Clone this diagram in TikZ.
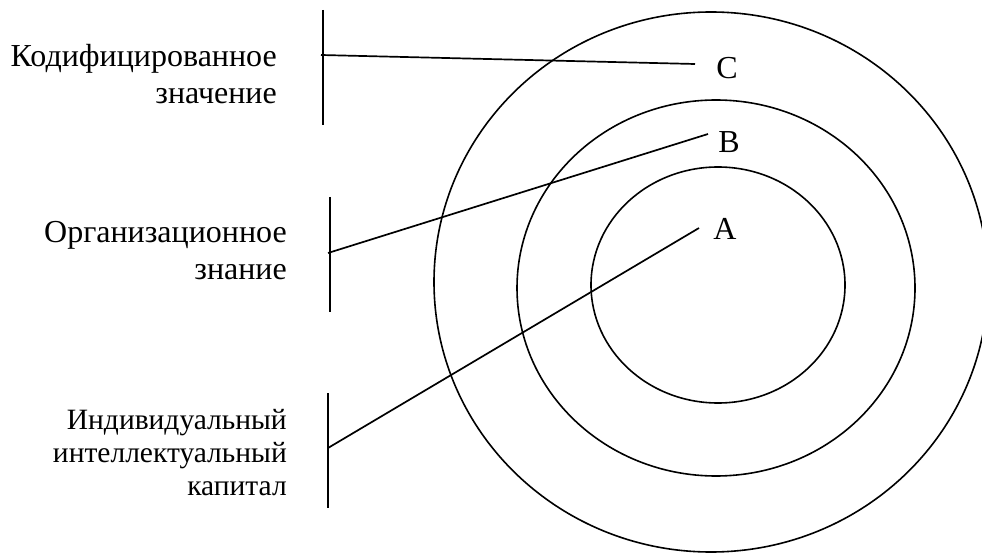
\documentclass[tikz,border=0pt]{standalone}
\usepackage{fontspec}
\setmainfont{Liberation Serif}
\usepackage{tikz}

\begin{document}
\begin{tikzpicture}[
    x=1pt, y=-1pt,
    ring/.style={draw, line width=1.6pt},
    bar/.style={draw, line width=1.9pt},
    leader/.style={draw, line width=1.7pt},
    caption/.style={
        anchor=north east,
        align=right,
        inner sep=0pt,
        font=\fontsize{32}{37}\selectfont
    },
    smallcaption/.style={caption, font=\fontsize{29.5}{33}\selectfont},
    letter/.style={inner sep=0pt, font=\fontsize{32}{37}\selectfont}
]
\useasboundingbox (0,0) rectangle (982,553);

% Rings
\draw[ring] (711,282) ellipse [x radius=277, y radius=270];
\draw[ring] (716,288) ellipse [x radius=199, y radius=188];
\draw[ring] (718,285) ellipse [x radius=127, y radius=118];

% Ring letters
\node[letter] (lc) at (727,68) {C};
\node[letter] (lb) at (729,142) {B};
\node[letter] (la) at (725,229) {A};

% Captions
\node[caption] (codified) at (277,44) {Кодифицированное\\значение};
\node[caption] (organiz) at (287,221) {Организационное\\знание};
\node[smallcaption] (individ) at (287,409) {Индивидуальный\\интеллектуальный\\капитал};

% Bars next to the captions
\coordinate (bar1top) at (323,10);
\coordinate (bar1bot) at (323,125);
\coordinate (bar2top) at (330,197);
\coordinate (bar2bot) at (330,312);
\coordinate (bar3top) at (328,393);
\coordinate (bar3bot) at (328,508);
\draw[bar] (bar1top) -- (bar1bot);
\draw[bar] (bar2top) -- (bar2bot);
\draw[bar] (bar3top) -- (bar3bot);

% Leader lines
\coordinate (c1) at (321,55);
\coordinate (c2) at (695,64);
\coordinate (b1) at (328,253);
\coordinate (b2) at (708,134);
\coordinate (a1) at (328,448);
\coordinate (a2) at (699,228);
\draw[leader] (c1) -- (c2);
\draw[leader] (b1) -- (b2);
\draw[leader] (a1) -- (a2);

\end{tikzpicture}
\end{document}
